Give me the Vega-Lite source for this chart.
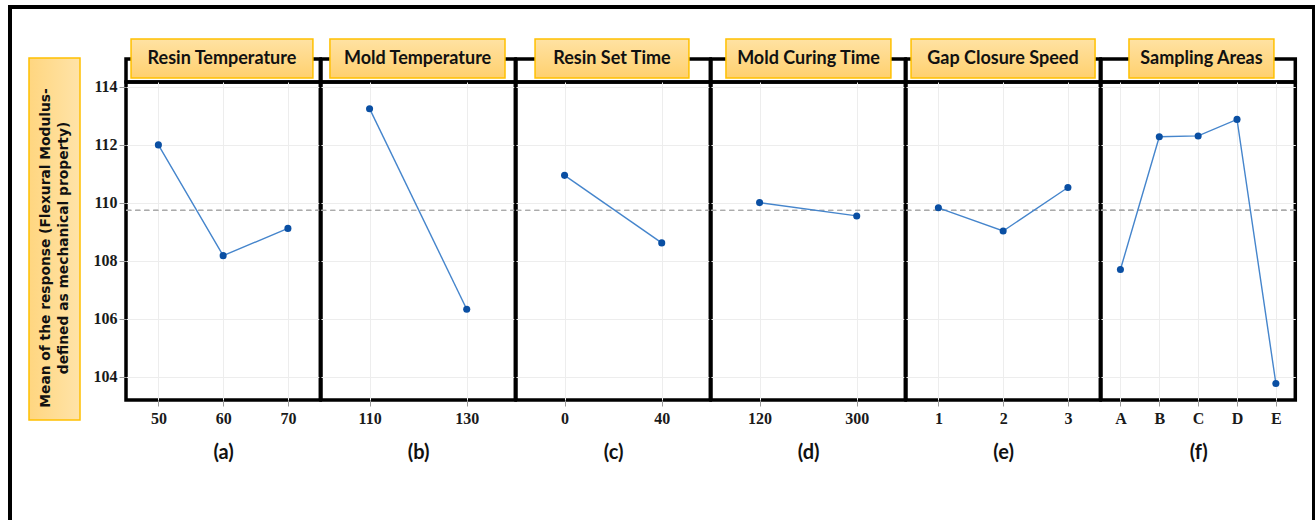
{
  "$schema": "https://vega.github.io/schema/vega-lite/v6.json",
  "background": "white",
  "padding": {"left": 7, "top": 5, "right": 0, "bottom": 0},
  "bounds": "flush",
  "spacing": 0,
  "columns": 7,
  "datasets": {
    "effects": [
      {"factor": "Resin Temperature", "level": "50", "mean": 112.00},
      {"factor": "Resin Temperature", "level": "60", "mean": 108.18},
      {"factor": "Resin Temperature", "level": "70", "mean": 109.12},
      {"factor": "Mold Temperature", "level": "110", "mean": 113.25},
      {"factor": "Mold Temperature", "level": "130", "mean": 106.33},
      {"factor": "Resin Set Time", "level": "0", "mean": 110.95},
      {"factor": "Resin Set Time", "level": "40", "mean": 108.62},
      {"factor": "Mold Curing Time", "level": "120", "mean": 110.01},
      {"factor": "Mold Curing Time", "level": "300", "mean": 109.55},
      {"factor": "Gap Closure Speed", "level": "1", "mean": 109.83},
      {"factor": "Gap Closure Speed", "level": "2", "mean": 109.03},
      {"factor": "Gap Closure Speed", "level": "3", "mean": 110.53},
      {"factor": "Sampling Areas", "level": "A", "mean": 107.70},
      {"factor": "Sampling Areas", "level": "B", "mean": 112.28},
      {"factor": "Sampling Areas", "level": "C", "mean": 112.31},
      {"factor": "Sampling Areas", "level": "D", "mean": 112.88},
      {"factor": "Sampling Areas", "level": "E", "mean": 103.77}
    ],
    "panels": [
      {"factor": "Resin Temperature"},
      {"factor": "Mold Temperature"},
      {"factor": "Resin Set Time"},
      {"factor": "Mold Curing Time"},
      {"factor": "Gap Closure Speed"},
      {"factor": "Sampling Areas"}
    ],
    "ytitle": [
      {"label": "Mean of the response (Flexural Modulus-\ndefined as mechanical property)"}
    ]
  },
  "concat": [
    {
      "width": 97, "height": 23,
      "view": {"stroke": null},
      "data": {"values": [{}]},
      "mark": {"type": "text"},
      "encoding": {"text": {"value": ""}}
    },
    {
      "width": 194.3, "height": 23,
      "data": {"name": "panels"},
      "transform": [{"filter": "datum.factor === 'Resin Temperature'"}],
      "layer": [
        {"mark": {"type": "rect", "fill": {"gradient": "linear", "x1": 0, "y1": 0, "x2": 0, "y2": 1, "stops": [{"offset": 0, "color": "#FFE2A3"}, {"offset": 1, "color": "#FFD06E"}]}, "stroke": "#FFC000", "strokeWidth": 1.5},
         "encoding": {
           "x": {"datum": 0.026, "type": "quantitative", "scale": {"domain": [0, 1], "nice": false, "zero": false}, "axis": null},
           "x2": {"datum": 0.962},
           "y": {"datum": 1.87, "type": "quantitative", "scale": {"domain": [0, 1], "nice": false, "zero": false}, "axis": null},
           "y2": {"datum": 0.174}}},
        {"mark": {"type": "text", "font": "Lato", "fontWeight": "bold", "fontSize": 18, "color": "#111111", "baseline": "middle"},
         "encoding": {"x": {"datum": 0.494, "type": "quantitative"}, "y": {"datum": 1.02, "type": "quantitative"}, "text": {"field": "factor"}}}
      ]
    },
    {
      "width": 194.3, "height": 23,
      "data": {"name": "panels"},
      "transform": [{"filter": "datum.factor === 'Mold Temperature'"}],
      "layer": [
        {"mark": {"type": "rect", "fill": {"gradient": "linear", "x1": 0, "y1": 0, "x2": 0, "y2": 1, "stops": [{"offset": 0, "color": "#FFE2A3"}, {"offset": 1, "color": "#FFD06E"}]}, "stroke": "#FFC000", "strokeWidth": 1.5},
         "encoding": {
           "x": {"datum": 0.046, "type": "quantitative", "scale": {"domain": [0, 1], "nice": false, "zero": false}, "axis": null},
           "x2": {"datum": 0.947},
           "y": {"datum": 1.87, "type": "quantitative", "scale": {"domain": [0, 1], "nice": false, "zero": false}, "axis": null},
           "y2": {"datum": 0.174}}},
        {"mark": {"type": "text", "font": "Lato", "fontWeight": "bold", "fontSize": 18, "color": "#111111", "baseline": "middle"},
         "encoding": {"x": {"datum": 0.497, "type": "quantitative"}, "y": {"datum": 1.02, "type": "quantitative"}, "text": {"field": "factor"}}}
      ]
    },
    {
      "width": 194.3, "height": 23,
      "data": {"name": "panels"},
      "transform": [{"filter": "datum.factor === 'Resin Set Time'"}],
      "layer": [
        {"mark": {"type": "rect", "fill": {"gradient": "linear", "x1": 0, "y1": 0, "x2": 0, "y2": 1, "stops": [{"offset": 0, "color": "#FFE2A3"}, {"offset": 1, "color": "#FFD06E"}]}, "stroke": "#FFC000", "strokeWidth": 1.5},
         "encoding": {
           "x": {"datum": 0.098, "type": "quantitative", "scale": {"domain": [0, 1], "nice": false, "zero": false}, "axis": null},
           "x2": {"datum": 0.890},
           "y": {"datum": 1.87, "type": "quantitative", "scale": {"domain": [0, 1], "nice": false, "zero": false}, "axis": null},
           "y2": {"datum": 0.174}}},
        {"mark": {"type": "text", "font": "Lato", "fontWeight": "bold", "fontSize": 18, "color": "#111111", "baseline": "middle"},
         "encoding": {"x": {"datum": 0.494, "type": "quantitative"}, "y": {"datum": 1.02, "type": "quantitative"}, "text": {"field": "factor"}}}
      ]
    },
    {
      "width": 194.3, "height": 23,
      "data": {"name": "panels"},
      "transform": [{"filter": "datum.factor === 'Mold Curing Time'"}],
      "layer": [
        {"mark": {"type": "rect", "fill": {"gradient": "linear", "x1": 0, "y1": 0, "x2": 0, "y2": 1, "stops": [{"offset": 0, "color": "#FFE2A3"}, {"offset": 1, "color": "#FFD06E"}]}, "stroke": "#FFC000", "strokeWidth": 1.5},
         "encoding": {
           "x": {"datum": 0.077, "type": "quantitative", "scale": {"domain": [0, 1], "nice": false, "zero": false}, "axis": null},
           "x2": {"datum": 0.926},
           "y": {"datum": 1.87, "type": "quantitative", "scale": {"domain": [0, 1], "nice": false, "zero": false}, "axis": null},
           "y2": {"datum": 0.174}}},
        {"mark": {"type": "text", "font": "Lato", "fontWeight": "bold", "fontSize": 18, "color": "#111111", "baseline": "middle"},
         "encoding": {"x": {"datum": 0.502, "type": "quantitative"}, "y": {"datum": 1.02, "type": "quantitative"}, "text": {"field": "factor"}}}
      ]
    },
    {
      "width": 194.3, "height": 23,
      "data": {"name": "panels"},
      "transform": [{"filter": "datum.factor === 'Gap Closure Speed'"}],
      "layer": [
        {"mark": {"type": "rect", "fill": {"gradient": "linear", "x1": 0, "y1": 0, "x2": 0, "y2": 1, "stops": [{"offset": 0, "color": "#FFE2A3"}, {"offset": 1, "color": "#FFD06E"}]}, "stroke": "#FFC000", "strokeWidth": 1.5},
         "encoding": {
           "x": {"datum": 0.026, "type": "quantitative", "scale": {"domain": [0, 1], "nice": false, "zero": false}, "axis": null},
           "x2": {"datum": 0.973},
           "y": {"datum": 1.87, "type": "quantitative", "scale": {"domain": [0, 1], "nice": false, "zero": false}, "axis": null},
           "y2": {"datum": 0.174}}},
        {"mark": {"type": "text", "font": "Lato", "fontWeight": "bold", "fontSize": 18, "color": "#111111", "baseline": "middle"},
         "encoding": {"x": {"datum": 0.499, "type": "quantitative"}, "y": {"datum": 1.02, "type": "quantitative"}, "text": {"field": "factor"}}}
      ]
    },
    {
      "width": 194.3, "height": 23,
      "data": {"name": "panels"},
      "transform": [{"filter": "datum.factor === 'Sampling Areas'"}],
      "layer": [
        {"mark": {"type": "rect", "fill": {"gradient": "linear", "x1": 0, "y1": 0, "x2": 0, "y2": 1, "stops": [{"offset": 0, "color": "#FFE2A3"}, {"offset": 1, "color": "#FFD06E"}]}, "stroke": "#FFC000", "strokeWidth": 1.5},
         "encoding": {
           "x": {"datum": 0.144, "type": "quantitative", "scale": {"domain": [0, 1], "nice": false, "zero": false}, "axis": null},
           "x2": {"datum": 0.890},
           "y": {"datum": 1.87, "type": "quantitative", "scale": {"domain": [0, 1], "nice": false, "zero": false}, "axis": null},
           "y2": {"datum": 0.174}}},
        {"mark": {"type": "text", "font": "Lato", "fontWeight": "bold", "fontSize": 18, "color": "#111111", "baseline": "middle"},
         "encoding": {"x": {"datum": 0.517, "type": "quantitative"}, "y": {"datum": 1.02, "type": "quantitative"}, "text": {"field": "factor"}}}
      ]
    },
    {
      "width": 97, "height": 318,
      "view": {"stroke": null},
      "data": {"name": "ytitle"},
      "layer": [
        {"mark": {"type": "rect", "fill": null, "stroke": "#000000", "strokeWidth": 4},
         "encoding": {
           "x": {"datum": -0.1959, "type": "quantitative", "scale": {"domain": [0, 1], "nice": false, "zero": false}, "axis": null},
           "x2": {"datum": 13.2474},
           "y": {"datum": 1.2358, "type": "quantitative", "scale": {"domain": [0, 1], "nice": false, "zero": false}, "axis": null},
           "y2": {"datum": -0.4088}}},
        {"mark": {"type": "rect", "fill": {"gradient": "linear", "x1": 0, "y1": 0, "x2": 1, "y2": 0, "stops": [{"offset": 0, "color": "#FFD680"}, {"offset": 1, "color": "#FFE3A8"}]}, "stroke": "#FFC000", "strokeWidth": 1.5},
         "encoding": {
           "x": {"datum": 0, "type": "quantitative"},
           "x2": {"datum": 0.5258},
           "y": {"datum": 1.0755, "type": "quantitative"},
           "y2": {"datum": -0.0629}}},
        {"mark": {"type": "text", "font": "DejaVu Sans", "fontWeight": "bold", "fontSize": 13.8, "color": "#111111", "angle": 270, "align": "center", "baseline": "middle", "lineBreak": "\n", "lineHeight": 18},
         "encoding": {"x": {"datum": 0.18, "type": "quantitative"}, "y": {"datum": 0.478, "type": "quantitative"}, "text": {"field": "label"}}}
      ]
    },
    {
      "width": 194.3, "height": 318,
      "data": {"name": "effects"},
      "transform": [{"filter": "datum.factor === 'Resin Temperature'"}],
      "layer": [
        {"mark": {"type": "rule", "color": "#ababab", "strokeDash": [5, 4], "strokeWidth": 1.3},
         "encoding": {"y": {"datum": 109.74, "type": "quantitative", "title": null}}},
        {"mark": {"type": "line", "color": "#4585cc", "strokeWidth": 1.4},
         "encoding": {
           "x": {"field": "level", "type": "nominal", "sort": null, "axis": {"title": "(a)"}},
           "y": {"field": "mean", "type": "quantitative", "title": null, "scale": {"domain": [103.2, 114.17], "nice": false, "zero": false}, "axis": {"values": [104, 106, 108, 110, 112, 114], "tickSize": 7, "labelPadding": 2}}}},
        {"mark": {"type": "point", "filled": true, "color": "#0a4fa3", "size": 50, "opacity": 1},
         "encoding": {"x": {"field": "level", "type": "nominal", "sort": null}, "y": {"field": "mean", "type": "quantitative"}}}
      ]
    },
    {
      "width": 194.3, "height": 318,
      "data": {"name": "effects"},
      "transform": [{"filter": "datum.factor === 'Mold Temperature'"}],
      "layer": [
        {"mark": {"type": "rule", "color": "#ababab", "strokeDash": [5, 4], "strokeWidth": 1.3},
         "encoding": {"y": {"datum": 109.74, "type": "quantitative", "title": null}}},
        {"mark": {"type": "line", "color": "#4585cc", "strokeWidth": 1.4},
         "encoding": {
           "x": {"field": "level", "type": "nominal", "sort": null, "axis": {"title": "(b)"}},
           "y": {"field": "mean", "type": "quantitative", "title": null, "scale": {"domain": [103.2, 114.17], "nice": false, "zero": false}, "axis": {"values": [104, 106, 108, 110, 112, 114], "labels": false, "ticks": false}}}},
        {"mark": {"type": "point", "filled": true, "color": "#0a4fa3", "size": 50, "opacity": 1},
         "encoding": {"x": {"field": "level", "type": "nominal", "sort": null}, "y": {"field": "mean", "type": "quantitative"}}}
      ]
    },
    {
      "width": 194.3, "height": 318,
      "data": {"name": "effects"},
      "transform": [{"filter": "datum.factor === 'Resin Set Time'"}],
      "layer": [
        {"mark": {"type": "rule", "color": "#ababab", "strokeDash": [5, 4], "strokeWidth": 1.3},
         "encoding": {"y": {"datum": 109.74, "type": "quantitative", "title": null}}},
        {"mark": {"type": "line", "color": "#4585cc", "strokeWidth": 1.4},
         "encoding": {
           "x": {"field": "level", "type": "nominal", "sort": null, "axis": {"title": "(c)"}},
           "y": {"field": "mean", "type": "quantitative", "title": null, "scale": {"domain": [103.2, 114.17], "nice": false, "zero": false}, "axis": {"values": [104, 106, 108, 110, 112, 114], "labels": false, "ticks": false}}}},
        {"mark": {"type": "point", "filled": true, "color": "#0a4fa3", "size": 50, "opacity": 1},
         "encoding": {"x": {"field": "level", "type": "nominal", "sort": null}, "y": {"field": "mean", "type": "quantitative"}}}
      ]
    },
    {
      "width": 194.3, "height": 318,
      "data": {"name": "effects"},
      "transform": [{"filter": "datum.factor === 'Mold Curing Time'"}],
      "layer": [
        {"mark": {"type": "rule", "color": "#ababab", "strokeDash": [5, 4], "strokeWidth": 1.3},
         "encoding": {"y": {"datum": 109.74, "type": "quantitative", "title": null}}},
        {"mark": {"type": "line", "color": "#4585cc", "strokeWidth": 1.4},
         "encoding": {
           "x": {"field": "level", "type": "nominal", "sort": null, "axis": {"title": "(d)"}},
           "y": {"field": "mean", "type": "quantitative", "title": null, "scale": {"domain": [103.2, 114.17], "nice": false, "zero": false}, "axis": {"values": [104, 106, 108, 110, 112, 114], "labels": false, "ticks": false}}}},
        {"mark": {"type": "point", "filled": true, "color": "#0a4fa3", "size": 50, "opacity": 1},
         "encoding": {"x": {"field": "level", "type": "nominal", "sort": null}, "y": {"field": "mean", "type": "quantitative"}}}
      ]
    },
    {
      "width": 194.3, "height": 318,
      "data": {"name": "effects"},
      "transform": [{"filter": "datum.factor === 'Gap Closure Speed'"}],
      "layer": [
        {"mark": {"type": "rule", "color": "#ababab", "strokeDash": [5, 4], "strokeWidth": 1.3},
         "encoding": {"y": {"datum": 109.74, "type": "quantitative", "title": null}}},
        {"mark": {"type": "line", "color": "#4585cc", "strokeWidth": 1.4},
         "encoding": {
           "x": {"field": "level", "type": "nominal", "sort": null, "axis": {"title": "(e)"}},
           "y": {"field": "mean", "type": "quantitative", "title": null, "scale": {"domain": [103.2, 114.17], "nice": false, "zero": false}, "axis": {"values": [104, 106, 108, 110, 112, 114], "labels": false, "ticks": false}}}},
        {"mark": {"type": "point", "filled": true, "color": "#0a4fa3", "size": 50, "opacity": 1},
         "encoding": {"x": {"field": "level", "type": "nominal", "sort": null}, "y": {"field": "mean", "type": "quantitative"}}}
      ]
    },
    {
      "width": 194.3, "height": 318,
      "data": {"name": "effects"},
      "transform": [{"filter": "datum.factor === 'Sampling Areas'"}],
      "layer": [
        {"mark": {"type": "rule", "color": "#ababab", "strokeDash": [5, 4], "strokeWidth": 1.3},
         "encoding": {"y": {"datum": 109.74, "type": "quantitative", "title": null}}},
        {"mark": {"type": "line", "color": "#4585cc", "strokeWidth": 1.4},
         "encoding": {
           "x": {"field": "level", "type": "nominal", "sort": null, "axis": {"title": "(f)"}},
           "y": {"field": "mean", "type": "quantitative", "title": null, "scale": {"domain": [103.2, 114.17], "nice": false, "zero": false}, "axis": {"values": [104, 106, 108, 110, 112, 114], "labels": false, "ticks": false}}}},
        {"mark": {"type": "point", "filled": true, "color": "#0a4fa3", "size": 50, "opacity": 1},
         "encoding": {"x": {"field": "level", "type": "nominal", "sort": null}, "y": {"field": "mean", "type": "quantitative"}}}
      ]
    }
  ],
  "config": {
    "view": {"stroke": "#000000", "strokeWidth": 3.5},
    "axis": {
      "domain": false,
      "grid": true,
      "gridColor": "#ededed",
      "gridWidth": 1,
      "tickColor": "#9a9a9a",
      "tickSize": 6,
      "labelFont": "Liberation Serif",
      "labelFontWeight": "bold",
      "labelFontSize": 16,
      "labelColor": "#1a1a1a",
      "titleFont": "Lato",
      "titleFontWeight": "bold",
      "titleFontSize": 20,
      "titleColor": "#111111"
    },
    "axisX": {"labelAngle": 0, "labelPadding": 4, "titlePadding": 16}
  }
}
